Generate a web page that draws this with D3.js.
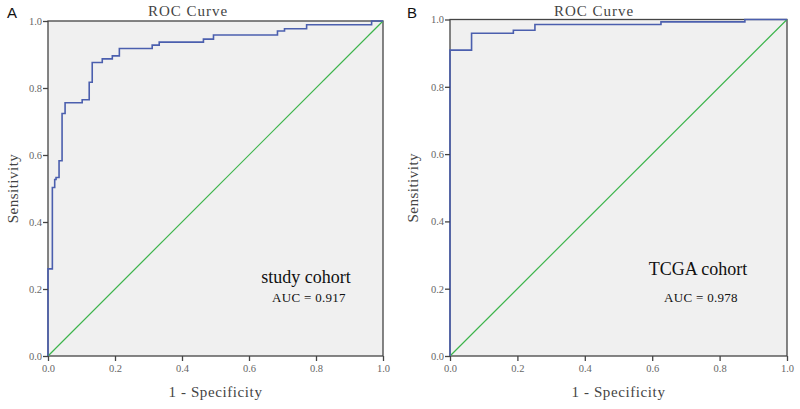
<!DOCTYPE html>
<html><head><meta charset="utf-8">
<script src="https://cdn.jsdelivr.net/npm/d3@7"></script>
<style>body{margin:0;background:#fff}svg{display:block}</style>
</head><body>
<svg id="c" width="800" height="409"></svg>
<script>
// ROC step points: [1 - specificity, sensitivity]
const studyFPR = [0, 0, 0.013, 0.013, 0.020, 0.020, 0.024, 0.024, 0.033, 0.033, 0.042, 0.042, 0.051, 0.051, 0.102, 0.102, 0.123, 0.123, 0.132, 0.132, 0.162, 0.162, 0.192, 0.192, 0.213, 0.213, 0.311, 0.311, 0.332, 0.332, 0.464, 0.464, 0.494, 0.494, 0.685, 0.685, 0.706, 0.706, 0.772, 0.772, 0.966, 0.966, 1.0];
const studyTPR = [0, 0.260, 0.260, 0.503, 0.503, 0.527, 0.527, 0.533, 0.533, 0.583, 0.583, 0.724, 0.724, 0.756, 0.756, 0.765, 0.765, 0.817, 0.817, 0.876, 0.876, 0.887, 0.887, 0.896, 0.896, 0.918, 0.918, 0.928, 0.928, 0.937, 0.937, 0.946, 0.946, 0.958, 0.958, 0.970, 0.970, 0.977, 0.977, 0.989, 0.989, 1.0, 1.0];
const tcgaFPR = [0, 0, 0.064, 0.064, 0.188, 0.188, 0.252, 0.252, 0.626, 0.626, 0.875, 0.875, 1.0];
const tcgaTPR = [0, 0.909, 0.909, 0.959, 0.959, 0.968, 0.968, 0.985, 0.985, 0.993, 0.993, 1.0, 1.0];
const tickValues = [0, 0.2, 0.4, 0.6, 0.8, 1.0];
const panelLetters = ["A", "B"];
const cohortNames = ["study cohort", "TCGA cohort"];
const aucLabels = ["AUC = 0.917", "AUC = 0.978"];

const svg = d3.select("#c");
const serif = "'Liberation Serif','DejaVu Serif',serif";

const panels = [
  {ox: 0, x0: 48, x1: 383, y0: 356, y1: 21, fpr: studyFPR, tpr: studyTPR, titleX: 188,
   cohortX: 306, cohortY: 283, aucX: 309, aucY: 302},
  {ox: 400, x0: 450, x1: 787, y0: 356, y1: 19.5, fpr: tcgaFPR, tpr: tcgaTPR, titleX: 594,
   cohortX: 698, cohortY: 275, aucX: 701, aucY: 302}
];

panels.forEach((p, i) => {
  const x = d3.scaleLinear().domain([0, 1]).range([p.x0, p.x1]);
  const y = d3.scaleLinear().domain([0, 1]).range([p.y0, p.y1]);
  const g = svg.append("g");

  g.append("rect").attr("x", p.x0).attr("y", p.y1)
    .attr("width", p.x1 - p.x0).attr("height", p.y0 - p.y1)
    .attr("fill", "#f0f0f0").attr("stroke", "#444").attr("stroke-width", 1.3);

  // diagonal
  g.append("line").attr("x1", x(0)).attr("y1", y(0)).attr("x2", x(1)).attr("y2", y(1))
    .attr("stroke", "#3cb44b").attr("stroke-width", 1.2);

  // ROC curve
  const pts = p.fpr.map((f, k) => [f, p.tpr[k]]);
  g.append("path").datum(pts)
    .attr("d", d3.line().x(d => x(d[0])).y(d => y(d[1])))
    .attr("fill", "none").attr("stroke", "#4b5fae").attr("stroke-width", 1.6);

  // axes
  const xa = g.append("g").attr("transform", `translate(0,${p.y0})`)
    .call(d3.axisBottom(x).tickValues(tickValues).tickFormat(d3.format(".1f")).tickSize(5).tickPadding(4));
  const ya = g.append("g").attr("transform", `translate(${p.x0},0)`)
    .call(d3.axisLeft(y).tickValues(tickValues).tickFormat(d3.format(".1f")).tickSize(5).tickPadding(1));
  [xa, ya].forEach(a => {
    a.select(".domain").remove();
    a.selectAll("line").attr("stroke", "#444").attr("stroke-width", 1.3);
    a.selectAll("text").attr("font-family", serif).attr("font-size", 10.5).attr("fill", "#666");
  });

  const cx = (p.x0 + p.x1) / 2;
  g.append("text").attr("x", p.titleX).attr("y", 16).attr("text-anchor", "middle")
    .attr("font-family", serif).attr("font-size", 15).attr("fill", "#444")
    .attr("letter-spacing", 1).text("ROC Curve");
  g.append("text").attr("x", cx).attr("y", 397).attr("text-anchor", "middle")
    .attr("font-family", serif).attr("font-size", 15).attr("fill", "#444")
    .attr("letter-spacing", 0.6).text("1 - Specificity");
  g.append("text").attr("transform", `translate(${p.ox + 18},${(p.y0 + p.y1) / 2}) rotate(-90)`)
    .attr("text-anchor", "middle")
    .attr("font-family", serif).attr("font-size", 15).attr("fill", "#444")
    .attr("letter-spacing", 0.5).text("Sensitivity");
  g.append("text").attr("x", p.ox + 7).attr("y", 18)
    .attr("font-family", "'Liberation Sans',Arial,sans-serif").attr("font-size", 15).attr("fill", "#111")
    .text(panelLetters[i]);
  g.append("text").attr("x", p.cohortX).attr("y", p.cohortY).attr("text-anchor", "middle")
    .attr("font-family", serif).attr("font-size", 18).attr("fill", "#111")
    .text(cohortNames[i]);
  g.append("text").attr("x", p.aucX).attr("y", p.aucY).attr("text-anchor", "middle")
    .attr("font-family", serif).attr("font-size", 13).attr("fill", "#111")
    .attr("letter-spacing", 0.3).text(aucLabels[i]);
});
</script>
</body></html>
